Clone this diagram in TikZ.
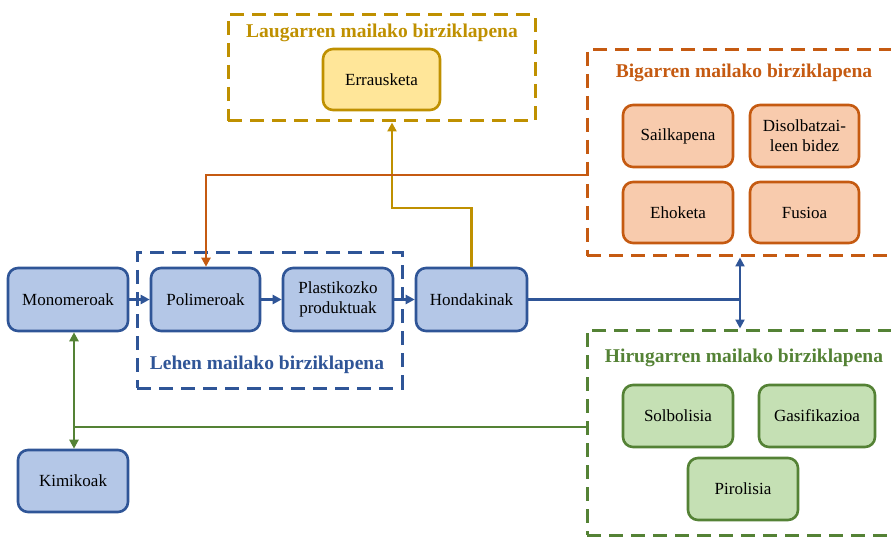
\documentclass[tikz,border=0pt]{standalone}
\usepackage{fontspec}
\setmainfont{Liberation Serif}
\usetikzlibrary{arrows.meta}
\definecolor{bdark}{HTML}{2F5597}
\definecolor{bfill}{HTML}{B4C7E7}
\definecolor{ydark}{HTML}{BF9000}
\definecolor{yfill}{HTML}{FFE699}
\definecolor{odark}{HTML}{C55A11}
\definecolor{ofill}{HTML}{F8CBAD}
\definecolor{gdark}{HTML}{548235}
\definecolor{gfill}{HTML}{C5E0B4}
\begin{document}
\begin{tikzpicture}[x=1pt,y=-1pt,
  box/.style={draw, line width=2.6pt, rounded corners=10pt, align=center,
    font=\fontsize{17}{20}\selectfont, text=black, inner sep=2pt},
  bbox/.style={box, draw=bdark, fill=bfill},
  ybox/.style={box, draw=ydark, fill=yfill},
  obox/.style={box, draw=odark, fill=ofill},
  gbox/.style={box, draw=gdark, fill=gfill},
  lvl/.style={draw, line width=3pt, dash pattern=on 14pt off 8pt, inner sep=0pt},
  lbl/.style={font=\fontsize{19.5}{22}\selectfont\bfseries, inner sep=0pt},
  tip/.style={-{Triangle[length=9pt,width=9pt]}},
  tips/.style={{Triangle[length=9pt,width=9pt]}-{Triangle[length=9pt,width=9pt]}},
  conn/.style={line width=2.6pt}
]
\useasboundingbox (0,0) rectangle (891,537);
\clip (0,0) rectangle (891,537);

% level frames
\node[lvl, draw=bdark, minimum width=265pt, minimum height=135pt] (lvl1) at (269.5,320.5) {};
\node[lvl, draw=ydark, minimum width=307pt, minimum height=106pt] (lvl4) at (381.5,68) {};
\node[lvl, draw=odark, minimum width=314pt, minimum height=206pt] (lvl2) at (744,153) {};
\node[lvl, draw=gdark, minimum width=314pt, minimum height=205pt] (lvl3) at (744,432.5) {};

\node[lbl, text=bdark] (l1) at (267,365) {Lehen mailako birziklapena};
\node[lbl, text=ydark] (l4) at (382,33) {Laugarren mailako birziklapena};
\node[lbl, text=odark] (l2) at (744,73) {Bigarren mailako birziklapena};
\node[lbl, text=gdark] (l3) at (744,358) {Hirugarren mailako birziklapena};

% boxes
\node[bbox, minimum width=120pt, minimum height=63pt] (mono) at (68,299.5) {Monomeroak};
\node[bbox, minimum width=109pt, minimum height=63pt] (poli) at (205.5,299.5) {Polimeroak};
\node[bbox, minimum width=110pt, minimum height=63pt] (plast) at (338,299.5) {Plastikozko\\produktuak};
\node[bbox, minimum width=111pt, minimum height=63pt] (hond) at (471.5,299.5) {Hondakinak};
\node[bbox, minimum width=110pt, minimum height=62pt] (kimi) at (73,481) {Kimikoak};

\node[ybox, minimum width=117pt, minimum height=61pt] (erra) at (381.5,79.5) {Errausketa};

\node[obox, minimum width=110pt, minimum height=62pt] (sail) at (678,136) {Sailkapena};
\node[obox, minimum width=109pt, minimum height=62pt] (diso) at (804.5,136) {Disolbatzai-\\leen bidez};
\node[obox, minimum width=110pt, minimum height=61pt] (ehok) at (678,212.5) {Ehoketa};
\node[obox, minimum width=109pt, minimum height=61pt] (fusi) at (804.5,212.5) {Fusioa};

\node[gbox, minimum width=110pt, minimum height=62pt] (solb) at (678,416) {Solbolisia};
\node[gbox, minimum width=116pt, minimum height=62pt] (gasi) at (817,416) {Gasifikazioa};
\node[gbox, minimum width=110pt, minimum height=62pt] (piro) at (743,489) {Pirolisia};

% connectors
\coordinate (j) at (740,299.5);
\coordinate (yk) at (392,208);
\coordinate (ok) at (206,175);
\coordinate (gk) at (74,427);

\draw[conn, draw=bdark, tip] (mono) -- (poli);
\draw[conn, draw=bdark, tip] (poli) -- (plast);
\draw[conn, draw=bdark, tip] (plast) -- (hond);
\draw[conn, draw=bdark] (hond) -- (j);
\draw[conn, draw=bdark, fill=bdark, tips] (j |- lvl2.south) -- (j |- lvl3.north);

\draw[conn, draw=ydark, tip] (hond.north) |- (yk) -- (yk |- lvl4.south);
\draw[conn, draw=odark, tip] (lvl2.west |- ok) -- (ok) -- (ok |- poli.north);
\draw[conn, draw=gdark, tips] (gk |- mono.south) -- (gk |- kimi.north);
\draw[conn, draw=gdark] (gk) -- (gk -| lvl3.west);
\end{tikzpicture}
\end{document}
